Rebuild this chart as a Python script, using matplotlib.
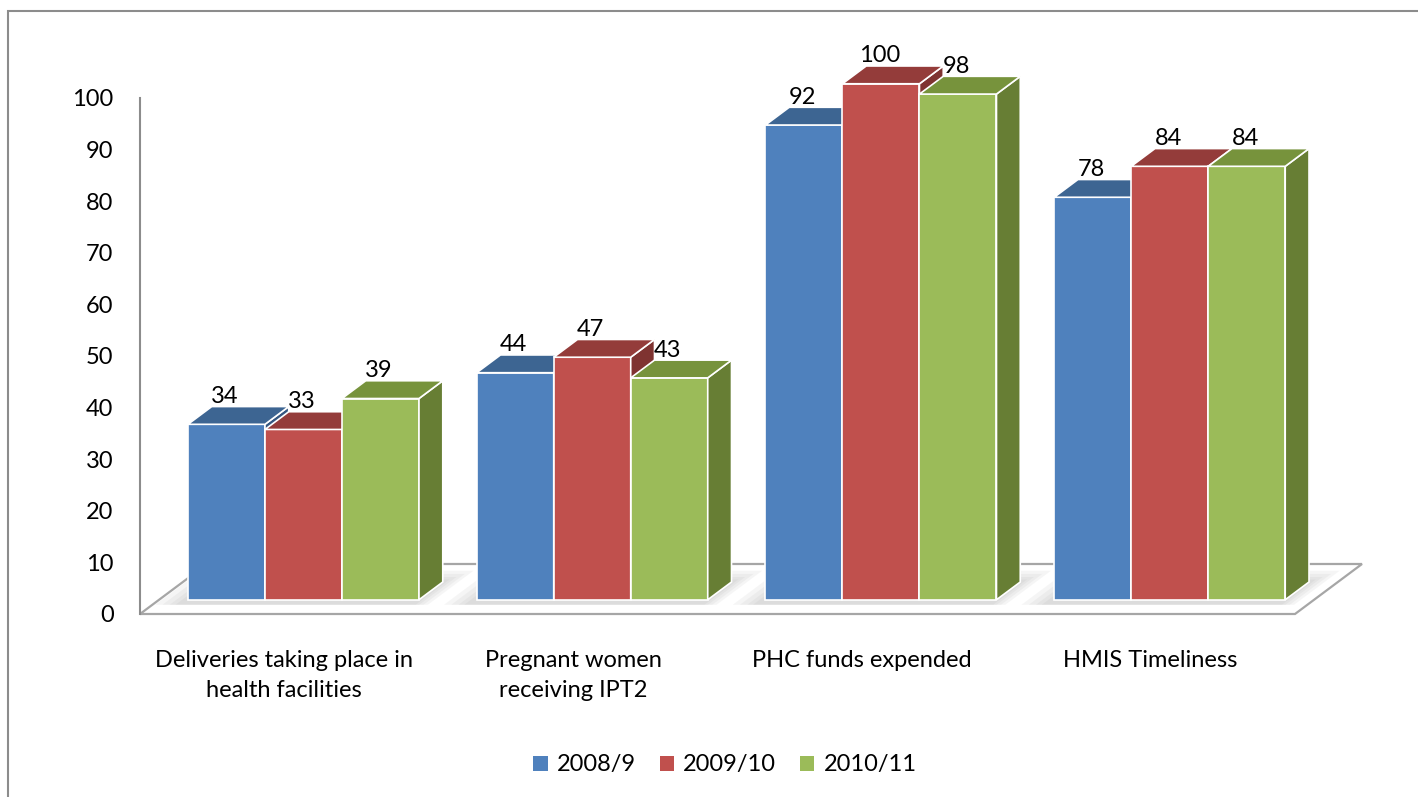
import numpy as np
import matplotlib.pyplot as plt
from matplotlib.patches import Polygon, Rectangle, Patch

plt.rcParams['font.family'] = ['Lato', 'DejaVu Sans']

# data
categories = ["Deliveries taking place in\nhealth facilities", "Pregnant women\nreceiving IPT2",
              "PHC funds expended", "HMIS Timeliness"]
series_names = ["2008/9", "2009/10", "2010/11"]
vals_2008 = [34, 44, 92, 78]
vals_2009 = [33, 47, 100, 84]
vals_2010 = [39, 43, 98, 84]
y_ticks = [0, 10, 20, 30, 40, 50, 60, 70, 80, 90, 100]

series_vals = [vals_2008, vals_2009, vals_2010]
front_cols = ['#4F81BD', '#C0504D', '#9BBB59']
top_cols = ['#3D6592', '#943C3A', '#77933C']
side_cols = ['#345680', '#7F3331', '#677E34']
FS = 17

# fake 3d: one unit of depth moves a point this far in x / y data units
KX, KY = 0.232, 9.69
D0, D1 = 0.285, 0.64   # depth range of the bars on the floor
BW = 0.2667            # bar width


def proj(x, d, y):
    return (x + KX * d, y + KY * d)


fig = plt.figure(figsize=(14.18, 7.97), dpi=100)
ax = fig.add_axes([140 / 1418, 183 / 797, 1155 / 1418, 516 / 797])
ax.set_xlim(0, 4)
ax.set_ylim(0, 100)

# floor
floor = [proj(0, 0, 0), proj(4, 0, 0), proj(4, 1, 0), proj(0, 1, 0)]
ax.add_patch(Polygon(floor, closed=True, fc='white', ec='#a6a6a6', lw=1.6, clip_on=False, zorder=1))

# soft shadows under each group
for i in range(len(categories)):
    gx0 = i + 0.5 - 1.5 * BW
    gx1 = i + 0.5 + 1.5 * BW
    for e in [0.09, 0.065, 0.04, 0.02]:
        shp = [proj(gx0 - e, max(D0 - 0.1, 0.02), 0), proj(gx1 + e * 0.6, max(D0 - 0.1, 0.02), 0),
               proj(gx1 + e * 0.6, min(D1 + e * 2.5, 0.98), 0), proj(gx0 - e, min(D1 + e * 2.5, 0.98), 0)]
        ax.add_patch(Polygon(shp, closed=True, fc='#7f7f7f', ec='none', alpha=0.07,
                             clip_on=False, zorder=1.5))

# bars, drawn left to right so later fronts hide earlier sides
z = 2
for i in range(len(categories)):
    for k in range(len(series_vals)):
        v = series_vals[k][i]
        x0 = i + 0.5 - 1.5 * BW + k * BW
        x1 = x0 + BW
        front = [proj(x0, D0, 0), proj(x1, D0, 0), proj(x1, D0, v), proj(x0, D0, v)]
        top = [proj(x0, D0, v), proj(x1, D0, v), proj(x1, D1, v), proj(x0, D1, v)]
        side = [proj(x1, D0, 0), proj(x1, D1, 0), proj(x1, D1, v), proj(x1, D0, v)]
        ax.add_patch(Polygon(front, closed=True, fc=front_cols[k], ec='white', lw=1.2,
                             clip_on=False, zorder=z))
        ax.add_patch(Polygon(side, closed=True, fc=side_cols[k], ec='white', lw=1.2,
                             clip_on=False, zorder=z))
        ax.add_patch(Polygon(top, closed=True, fc=top_cols[k], ec='white', lw=1.2,
                             clip_on=False, zorder=z))
        cx, cy = proj(x0 + BW / 2, D0, v)
        ax.text(cx - 0.005, cy + 5.4, str(v), ha='center', va='center', fontsize=FS,
                color='black', zorder=50, clip_on=False)
        z += 1

# axes styling
for s in ['top', 'right', 'bottom']:
    ax.spines[s].set_visible(False)
ax.spines['left'].set_color('#8c8c8c')
ax.spines['left'].set_linewidth(1.5)
ax.set_yticks(y_ticks)
ax.tick_params(axis='y', length=0, pad=19, labelsize=FS, labelcolor='black')
ax.set_xticks(np.arange(len(categories)) + 0.5)
ax.set_xticklabels(categories)
ax.tick_params(axis='x', length=0, pad=26, labelsize=FS, labelcolor='black')
for lab in ax.get_xticklabels():
    lab.set_linespacing(1.5)
    lab.set_verticalalignment('top')
ax.patch.set_visible(False)

# legend
handles = [Patch(fc=c, ec='none') for c in front_cols]
fig.legend(handles, series_names, loc='center', bbox_to_anchor=(725 / 1418, 1 - 765 / 797),
           ncol=3, frameon=False, fontsize=FS, handlelength=0.6, handleheight=0.6,
           handletextpad=0.4, columnspacing=1.0)

# chart frame
fig.patches.append(Rectangle((8 / 1418, -0.05), 1.2, 1.05 - 11 / 797, transform=fig.transFigure,
                             fill=False, ec='#8c8c8c', lw=1.5))

fig.savefig('out.png', dpi=100)
